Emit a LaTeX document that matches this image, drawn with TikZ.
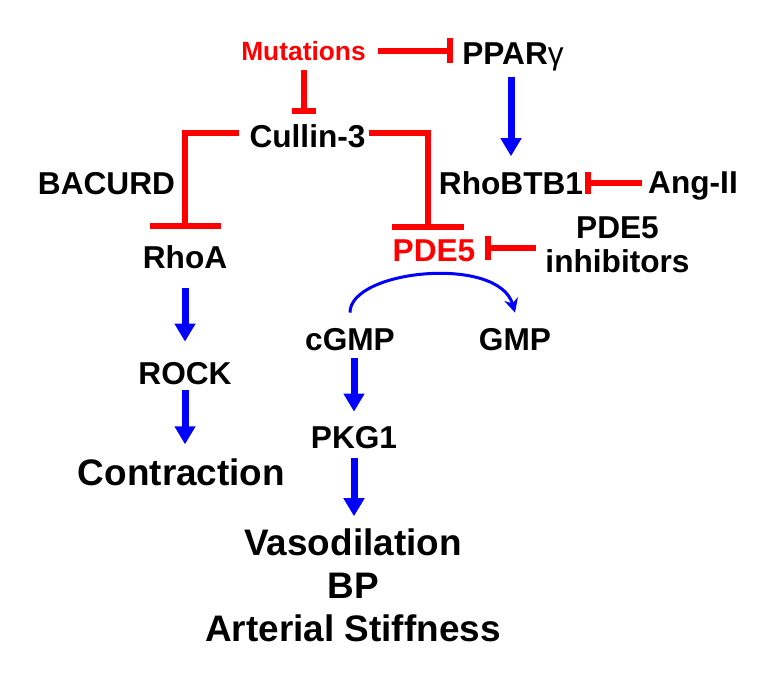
\documentclass[tikz,border=0pt]{standalone}
\usepackage{fontspec}
\setmainfont{Liberation Sans}
\usetikzlibrary{arrows.meta}

\begin{document}
\begin{tikzpicture}[
  lbl/.style={font=\fontsize{18}{19.4}\selectfont\bfseries, inner sep=0pt,
    text depth=0pt, align=center},
  big/.style={lbl, font=\fontsize{21}{24.5}\selectfont\bfseries},
  inh/.style={draw=red, line width=0.12cm},
  act/.style={draw=blue, line width=0.14cm,
    -{Triangle[width=0.4cm,length=0.36cm]}},
  cyc/.style={draw=blue, line width=0.06cm,
    -{Stealth[width=0.28cm,length=0.28cm]}}
]
  \useasboundingbox (0,0) rectangle (15.6,-13.66);

  % Top: mutations and their targets
  \node[lbl, red, font=\fontsize{15}{18}\selectfont\bfseries] (mut) at (6.07,-1.02) {Mutations};
  \node[lbl] (ppar) at (10.26,-1.08) {PPAR{\mdseries γ}};
  \node[lbl] (cul) at (6.15,-2.72) {Cullin-3};

  % Middle row
  \node[lbl] (bacurd) at (2.13,-3.66) {BACURD};
  \node[lbl] (rhobtb) at (10.22,-3.66) {RhoBTB1};
  \node[lbl] (ang) at (13.86,-3.66) {Ang-II};
  \node[lbl] (rhoa) at (3.70,-5.14) {RhoA};
  \node[lbl, red] (pde) at (8.68,-5.02) {PDE5};
  \node[lbl] (pdeinh) at (12.35,-4.89) {PDE5\\inhibitors};

  % Left branch: RhoA pathway
  \node[lbl] (rock) at (3.70,-7.46) {ROCK};
  \node[big] (contr) at (3.63,-9.44) {Contraction};

  % Right branch: cGMP pathway
  \node[lbl] (cgmp) at (7.00,-6.78) {cGMP};
  \node[lbl] (gmp) at (10.30,-6.78) {GMP};
  \node[lbl] (pkg) at (7.08,-8.74) {PKG1};
  \node[big] (out) at (7.06,-11.70) {Vasodilation\\BP\\Arterial Stiffness};

  % Inhibitions (red)
  \draw[inh, -{Bar[width=0.5cm]}, shorten <=0.24cm, shorten >=0.18cm]
    (mut.east) -- (ppar.west |- mut.east);
  \draw[inh, -{Bar[width=0.48cm]}, shorten <=0.18cm, shorten >=0.2cm]
    (mut.south) -- (mut.south |- cul.north);
  \draw[inh, -{Bar[width=1.42cm]}, shorten <=0.2cm, shorten >=0.32cm]
    ([yshift=0.06cm]cul.west) -| (rhoa.north);
  \draw[inh, -{Bar[width=1.44cm]}, shorten <=0.06cm, shorten >=0.2cm]
    ([yshift=0.06cm]cul.east) -| ([xshift=-0.12cm]pde.north);
  \draw[inh, -{Bar[width=0.44cm]}, shorten <=0.12cm, shorten >=0.04cm]
    (ang.west) -- (rhobtb.east);
  \draw[inh, -{Bar[width=0.48cm]}, shorten <=0.18cm, shorten >=0.18cm]
    ([yshift=-0.06cm]pdeinh.west) -- ([yshift=-0.06cm]pdeinh.west -| pde.east);

  % Activations (blue)
  \draw[act, shorten <=0.24cm, shorten >=0.3cm]
    (rhobtb.north |- ppar.south) -- (rhobtb.north);
  \draw[act, shorten <=0.38cm, shorten >=0.4cm] (rhoa.south) -- (rock.north);
  \draw[act, shorten <=0.12cm, shorten >=0.28cm]
    (rock.south) -- (rock.south |- contr.north);
  \draw[act, shorten <=0.16cm, shorten >=0.28cm]
    (pkg.north |- cgmp.south) -- (pkg.north);
  \draw[act, shorten <=0.2cm, shorten >=0.24cm]
    (pkg.south) -- (pkg.south |- out.north);

  % PDE5 turns cGMP into GMP
  \draw[cyc] ([yshift=0.3cm]cgmp.north)
    to[out=90, in=106, out distance=0.86cm, in distance=1.2cm]
    ([yshift=0.3cm]gmp.north);
\end{tikzpicture}
\end{document}
